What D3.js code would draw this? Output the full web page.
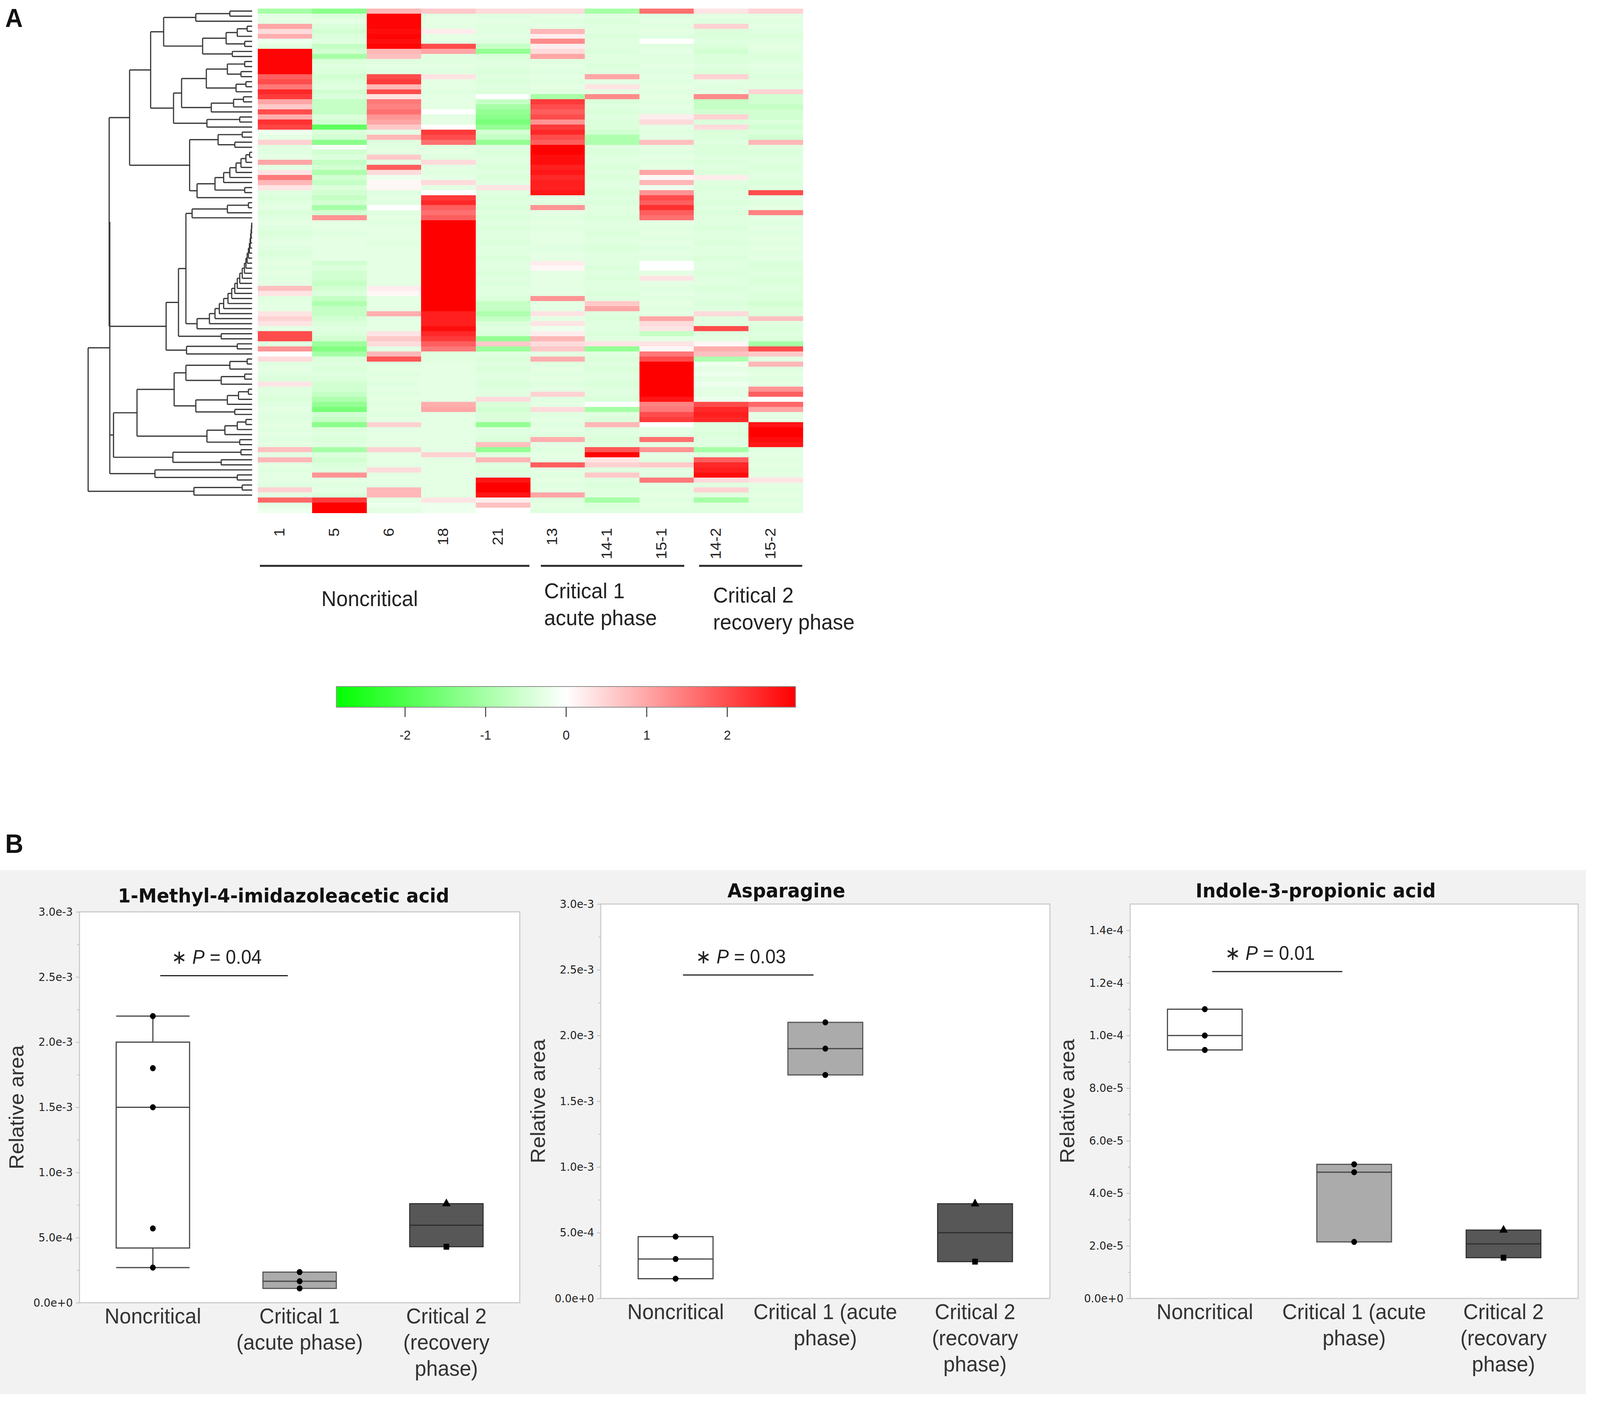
<!DOCTYPE html>
<html>
<head>
<meta charset="utf-8">
<script src="https://cdn.jsdelivr.net/npm/d3@7"></script>
<style>
  html, body { margin: 0; padding: 0; width: 100%; height: 100%; overflow: hidden; background: #fff; }
  svg { display: block; width: 100vw; height: 100vh; }
  text { font-family: "Liberation Sans", Arial, sans-serif; fill: #222; }
</style>
</head>
<body>
<svg id="fig" viewBox="0 0 4328 3603" preserveAspectRatio="none"></svg>
<script>
// ---------- Panel A: heatmap data (z-scores, rows top to bottom) ----------
const samples = ["1", "5", "6", "18", "21", "13", "14-1", "15-1", "14-2", "15-2"];
const groupNames = [["Noncritical"], ["Critical 1", "acute phase"], ["Critical 2", "recovery phase"]];
const groupMembers = [["1", "5", "6", "18", "21"], ["13", "14-1", "15-1"], ["14-2", "15-2"]];
const colorTicks = [-2, -1, 0, 1, 2];

const s1 = [
  -1.0, -0.3, -0.3, 1.0, 0.4, 0.9, -0.2, -0.35, 2.8, 2.8,
  2.8, 2.8, 2.8, 1.8, 2.0, 1.5, 2.4, 2.2, 1.0, 0.6,
  2.0, 0.9, 2.3, 2.1, -0.2, -0.3, 0.5, -0.35, -0.35, -0.3,
  1.0, -0.3, 0.3, 1.5, 0.8, 0.3, -0.35, -0.4, -0.35, -0.3,
  -0.4, -0.35, -0.3, -0.35, -0.4, -0.35, -0.3, -0.35, -0.4, -0.35,
  -0.3, -0.35, -0.3, -0.35, -0.3, 0.7, 0.3, -0.35, -0.3, -0.3,
  0.3, 0.5, 0.3, -0.3, 2.0, 2.0, -0.35, 1.2, 0.0, 0.4,
  -0.35, -0.3, -0.35, -0.4, 0.3, -0.35, -0.35, -0.4, -0.35, -0.3,
  -0.35, -0.35, -0.3, -0.35, -0.3, -0.35, -0.3, 0.7, -0.3, 0.8,
  -0.3, -0.35, -0.3, -0.3, -0.35, 0.5, -0.3, 1.7, -0.3, -0.2
];
const s5 = [
  -1.3, -0.4, -0.3, -0.4, -0.5, -0.4, -0.35, -0.65, -0.5, -1.0,
  -0.4, -0.35, -0.4, -0.5, -0.4, -0.35, -0.5, -0.4, -0.65, -0.65,
  -0.65, -0.4, -0.5, -1.8, -0.4, -0.5, -1.3, -0.1, -0.5, -0.4,
  -0.65, -0.5, -0.9, -0.5, -0.65, -0.4, -0.5, -0.65, -0.5, -1.0,
  -0.5, 1.2, -0.3, -0.3, -0.35, -0.3, -0.3, -0.3, -0.3, -0.3,
  -0.5, -0.4, -0.5, -0.5, -0.65, -0.5, -0.4, -0.65, -0.9, -0.65,
  -0.65, -0.5, -0.4, -0.35, -0.4, -0.5, -1.1, -1.4, -1.0, -0.4,
  -0.35, -0.4, -0.35, -0.4, -0.5, -0.5, -0.65, -0.9, -1.2, -1.5,
  -0.5, -0.65, -1.3, -0.4, -0.35, -0.4, -0.35, -1.0, -0.4, -0.5,
  -0.4, -0.35, 1.2, -0.3, -0.35, -0.3, -0.4, 2.2, 2.85, 2.85
];
const s6 = [
  0.8, 2.8, 2.8, 2.8, 2.7, 2.8, 2.7, 2.8, 0.8, 0.7,
  -0.35, -0.3, -0.35, 2.0, 2.2, 0.8, 2.0, 0.3, 1.5, 1.4,
  1.6, 1.2, 1.0, 0.6, -0.3, 0.8, -0.35, -0.35, -0.3, 0.6,
  -0.3, 1.8, 0.4, -0.2, 0.1, 0.1, -0.35, -0.3, -0.35, 0.0,
  -0.35, -0.3, -0.35, -0.3, -0.3, -0.3, -0.35, -0.3, -0.3, -0.3,
  -0.3, -0.3, -0.3, -0.3, -0.3, 0.2, 0.1, -0.3, -0.3, -0.3,
  0.9, -0.3, -0.3, -0.3, 0.3, 0.6, 0.4, -0.3, 0.8, 1.9,
  -0.35, -0.3, -0.35, -0.3, -0.35, -0.3, -0.35, -0.3, -0.35, -0.3,
  -0.35, -0.3, 0.5, -0.3, -0.3, -0.3, -0.3, 0.5, -0.3, -0.3,
  -0.3, 0.4, -0.3, -0.3, -0.3, 0.8, 0.8, -0.3, -0.2, -0.3
];
const s18 = [
  0.6, -0.3, -0.3, -0.3, 0.2, -0.3, -0.3, 2.0, 1.0, -0.35,
  -0.35, -0.3, -0.35, 0.3, -0.3, -0.3, -0.35, -0.3, -0.3, -0.3,
  0.0, -0.3, -0.3, 0.0, 2.2, 2.0, 1.6, -0.35, -0.3, -0.35,
  0.4, -0.3, -0.35, -0.3, 0.4, -0.3, 0.0, 2.2, 2.4, 1.8,
  1.6, 1.8, 2.85, 2.85, 2.85, 2.85, 2.85, 2.85, 2.85, 2.85,
  2.85, 2.85, 2.85, 2.85, 2.85, 2.85, 2.85, 2.85, 2.85, 2.85,
  2.5, 2.5, 2.5, 2.7, 2.4, 2.2, 1.8, 1.5, -0.35, -0.35,
  -0.3, -0.3, -0.3, -0.3, -0.3, -0.3, -0.3, -0.3, 0.9, 1.0,
  -0.3, -0.3, -0.3, -0.3, -0.3, -0.3, -0.3, -0.3, 0.5, -0.3,
  -0.3, -0.3, -0.3, -0.3, -0.3, -0.3, -0.3, 0.3, -0.2, -0.2
];
const s21 = [
  0.4, -0.35, -0.3, -0.35, -0.35, -0.3, -0.35, -0.65, -1.2, -0.4,
  -0.35, -0.35, -0.4, -0.35, -0.4, -0.35, -0.4, 0.0, -0.65, -1.0,
  -1.2, -1.3, -1.5, -1.2, -0.5, -0.65, -1.2, -0.35, -0.4, -0.35,
  -0.35, -0.4, -0.35, -0.4, -0.35, 0.3, -0.35, -0.4, -0.35, -0.4,
  -0.35, -0.4, -0.35, -0.4, -0.35, -0.35, -0.4, -0.35, -0.35, -0.4,
  -0.35, -0.35, -0.4, -0.35, -0.4, -0.35, -0.35, -0.4, -0.65, -0.65,
  -0.9, -0.65, -0.4, -0.35, -0.4, -1.2, 0.6, -1.1, -0.35, -0.4,
  -0.35, -0.4, -0.35, -0.35, -0.4, -0.35, -0.35, 0.4, -0.4, -0.5,
  -0.4, -0.4, -1.2, -0.35, -0.35, -0.4, 0.7, -1.2, -0.35, 0.8,
  -0.35, -0.4, -0.35, 2.6, 2.85, 2.85, 2.6, 0.2, 0.7, 0.0
];
const s13 = [
  0.4, -0.3, -0.35, -0.3, 0.8, 0.2, 1.3, 0.2, 0.4, 1.0,
  -0.35, -0.3, -0.35, -0.3, -0.35, -0.3, -0.35, -1.0, 2.2, 2.0,
  1.8, 2.0, 1.2, 2.2, 2.4, 2.0, 1.8, 2.85, 2.85, 2.7,
  2.7, 2.5, 2.6, 2.4, 2.5, 2.5, 2.6, -0.3, -0.35, 1.2,
  -0.3, -0.35, -0.3, -0.35, -0.3, -0.3, -0.3, -0.35, -0.3, -0.3,
  0.2, 0.1, -0.3, -0.3, -0.3, -0.3, -0.3, 1.2, -0.3, -0.3,
  0.3, -0.3, 0.3, -0.2, 0.2, 0.8, 0.4, 0.6, -0.3, 0.9,
  -0.35, -0.3, -0.35, -0.3, -0.35, -0.3, 0.5, -0.35, -0.3, 0.4,
  -0.35, -0.3, -0.35, -0.3, -0.35, 0.9, -0.3, -0.35, -0.3, -0.3,
  1.8, -0.3, -0.35, -0.3, -0.35, -0.3, 1.0, -0.35, -0.3, -0.35
];
const s14_1 = [
  -1.0, -0.35, -0.4, -0.35, -0.35, -0.4, -0.35, -0.35, -0.4, -0.35,
  -0.35, -0.4, -0.35, 1.0, -0.3, 0.3, -0.3, 1.3, -0.4, -0.35,
  -0.4, -0.35, -0.4, -0.4, -0.5, -0.9, -0.9, -0.35, -0.4, -0.35,
  -0.35, -0.4, -0.35, -0.4, -0.35, -0.35, -0.4, -0.35, -0.4, -0.35,
  -0.35, -0.4, -0.35, -0.35, -0.4, -0.35, -0.35, -0.4, -0.35, -0.35,
  -0.35, -0.4, -0.35, -0.4, -0.35, -0.35, -0.4, -0.35, 0.6, 1.0,
  -0.35, -0.4, -0.35, -0.35, -0.4, -0.35, 0.3, -1.2, -0.35, -0.4,
  -0.35, -0.4, -0.35, -0.35, -0.4, -0.35, -0.35, -0.4, 0.0, -1.0,
  -0.35, -0.4, 0.8, -0.35, -0.35, -0.4, -0.35, 1.9, 2.8, 0.3,
  0.5, -0.35, 0.6, -0.35, -0.4, -0.35, -0.35, -1.0, -0.4, -0.35
];
const s15_1 = [
  1.6, -0.35, -0.3, -0.35, -0.3, -0.35, 0.0, -0.35, -0.3, -0.35,
  -0.35, -0.3, -0.35, -0.3, -0.35, -0.3, -0.35, -0.3, -0.35, -0.3,
  -0.35, 0.2, 0.4, -0.3, -0.35, -0.3, 0.7, -0.3, -0.35, -0.3,
  -0.35, -0.3, 1.0, 0.1, 0.8, -0.2, 1.2, 2.0, 1.8, 2.3,
  1.8, 1.6, -0.3, -0.35, -0.3, -0.35, -0.3, -0.35, -0.3, -0.35,
  0.0, 0.0, -0.3, 0.3, -0.3, -0.35, -0.3, -0.35, -0.3, -0.35,
  -0.3, 1.0, 0.4, 0.3, -0.65, -0.3, 0.3, 0.1, 1.5, 2.0,
  2.85, 2.85, 2.85, 2.85, 2.85, 2.85, 2.85, 2.6, 1.4, 1.5,
  2.0, 2.2, 0.0, -0.3, -0.3, 1.6, -0.3, 1.2, -0.3, -0.35,
  0.6, -0.3, -0.35, 1.5, -0.3, -0.35, -0.3, -0.35, -0.3, -0.35
];
const s14_2 = [
  0.3, -0.3, -0.35, 0.5, -0.4, -0.4, -0.35, -0.4, -0.5, -0.4,
  -0.4, -0.35, -0.4, 0.5, -0.3, -0.35, -0.3, 1.3, -0.65, -0.65,
  -0.5, 0.5, -0.4, 0.4, -0.4, -0.4, -0.35, -0.4, -0.4, -0.35,
  -0.4, -0.35, -0.4, 0.2, -0.35, -0.4, -0.35, -0.35, -0.4, -0.35,
  -0.4, -0.35, -0.35, -0.4, -0.35, -0.35, -0.4, -0.35, -0.35, -0.4,
  -0.35, -0.35, -0.4, -0.35, -0.35, -0.4, -0.35, -0.35, -0.4, -0.35,
  0.4, -0.35, -0.35, 2.0, -0.35, -0.3, 0.1, 0.9, 0.7, -0.9,
  -0.2, -0.3, -0.2, -0.3, -0.2, -0.3, -0.3, -0.2, 2.0, 2.4,
  2.5, 2.4, -0.35, -0.35, -0.4, -0.35, -0.35, -1.0, -0.35, 1.8,
  2.4, 2.5, 2.7, 0.4, -0.35, 0.5, -0.35, -1.0, -0.35, -0.35
];
const s15_2 = [
  0.5, -0.3, -0.35, -0.3, -0.35, -0.4, -0.35, -0.3, -0.35, -0.4,
  -0.35, -0.3, -0.35, -0.4, -0.35, -0.35, 0.5, -0.5, -0.5, -0.65,
  -0.5, -0.5, -0.4, -0.5, -0.4, -0.5, 0.8, -0.35, -0.4, -0.35,
  -0.35, -0.4, -0.35, -0.35, -0.4, -0.35, 2.0, -0.3, -0.35, -0.3,
  1.4, -0.3, -0.35, -0.3, -0.35, -0.3, -0.35, -0.3, -0.35, -0.3,
  -0.4, -0.4, -0.35, -0.4, -0.4, -0.35, -0.4, -0.4, -0.5, -0.4,
  -0.4, 0.7, -0.35, -0.4, -0.35, -0.4, -1.0, 2.0, 0.6, -0.3,
  0.8, -0.35, -0.3, -0.35, -0.3, 1.2, 1.8, 0.0, 1.7, 1.0,
  -0.3, -0.3, 2.6, 2.85, 2.85, 2.7, 2.6, -0.35, -0.3, -0.35,
  -0.3, -0.35, -0.3, 0.3, -0.3, -0.35, -0.3, -0.35, -0.3, -0.35
];
const heatmapColumns = [s1, s5, s6, s18, s21, s13, s14_1, s15_1, s14_2, s15_2];

// row dendrogram, nested "(child,child)height" with x = leaf; heights
const chainHeights = [3, 5, 8, 12, 16, 22, 30, 40, 50, 62, 80, 100, 120, 140, 165, 195, 230, 265, 300, 345, 445];
const treeTop = "((((x,x)180,x)455,((((x,x)40,x)120,(x,x)60)210,(x,x)160)400)715," +
  "(((((x,x)60,(x,x)90)200,((x,x)50,x)130)370,(((x,x)70,x)150,x)330)570,((x,x)100,x)365)635)820";
const treeMid = "(((x,x)80,(x,x)140)275,((((((((x,x)20,x)50,x)90,x)130,x)180,x)230,(x,x)60)300,x)445)505";
const treeLow = "((((((x,x)40,x)180,((x,x)60,x)250)535,((((x,x)30,x)110,x)200,(x,x)140)455)630," +
  "((((x,x)50,x)120,x)220,(x,x)100)365)930,((x,x)90,(x,x)250)640)1120,(x,(x,x)120)785)1150";

// ---------- Panel B: box plot data ----------
const boxCategories = ["Noncritical", "Critical 1", "Critical 2"];
const methylValues = [[2.2e-3, 1.8e-3, 1.5e-3, 0.57e-3, 0.27e-3], [0.235e-3, 0.165e-3, 0.11e-3], [0.76e-3, 0.43e-3]];
const asparagineValues = [[0.47e-3, 0.30e-3, 0.15e-3], [2.1e-3, 1.9e-3, 1.7e-3], [0.72e-3, 0.28e-3]];
const indoleValues = [[1.10e-4, 1.0e-4, 0.945e-4], [5.1e-5, 4.8e-5, 2.15e-5], [2.6e-5, 1.55e-5]];
const pointShapes = [["circle"], ["circle"], ["triangle", "square"]];
const methylLabels = [["Noncritical"], ["Critical 1", "(acute phase)"], ["Critical 2", "(recovery", "phase)"]];
const otherLabels = [["Noncritical"], ["Critical 1 (acute", "phase)"], ["Critical 2", "(recovary", "phase)"]];
const pValues = ["0.04", "0.03", "0.01"];
const sigLevels = [2.51e-3, 2.46e-3, 1.243e-4];

const svg = d3.select("#fig");

// ================= Panel A =================
svg.append("text").attr("x", 14).attr("y", 69)
  .style("font-size", "66px").style("font-weight", "bold").style("fill", "#111").text("A");

const nRows = s1.length;
const xCol = d3.scaleBand().domain(samples).range([697, 2172]);
const yRow = d3.scaleBand().domain(d3.range(nRows)).range([22, 1313]);
const heatColor = d3.scaleLinear().domain([-2.85, 0, 2.85])
  .range(["#00ff00", "#ffffff", "#ff0000"]).clamp(true);

const cells = [];
heatmapColumns.forEach((col, j) => col.forEach((v, i) => cells.push({ sample: samples[j], row: i, v })));

svg.append("g").attr("shape-rendering", "crispEdges")
  .selectAll("rect").data(cells).join("rect")
  .attr("x", d => xCol(d.sample))
  .attr("y", d => yRow(d.row))
  .attr("width", xCol.bandwidth() + 0.5)
  .attr("height", yRow.bandwidth() + 0.5)
  .attr("fill", d => heatColor(d.v));

// dendrogram
function parseTree(str) {
  let i = 0;
  function node() {
    if (str[i] === "(") {
      i++;
      const children = [node()];
      while (str[i] === ",") { i++; children.push(node()); }
      i++;
      let num = "";
      while (i < str.length && /[0-9.]/.test(str[i])) num += str[i++];
      return { h: +num, children };
    }
    i++;
    return { h: 0 };
  }
  return node();
}
const chain = chainHeights.reduce((acc, h) => "(" + acc + ",x)" + h, "x");
const treeF = "((((((x,x)30,x)200,x)485," + chain + ")535,(x,x)250)595,((x,x)120,x)530)695";
const treeString = "((((" + "(" + treeTop + "," + treeMid + ")990," + treeF + ")1155," + treeLow + ")1240,((x,x)80,x)470)1325,((x,x)90,x)645)1380";

const root = d3.hierarchy(parseTree(treeString));
const xDen = d3.scaleLinear().domain([0, 1380]).range([682, 220]);
root.leaves().forEach((leaf, i) => { leaf.py = yRow(i) + yRow.bandwidth() / 2; });
root.eachAfter(d => {
  if (d.children) d.py = (d.children[0].py + d.children[d.children.length - 1].py) / 2;
});

const dend = svg.append("g").attr("fill", "none").attr("stroke", "#3a3a3a").attr("stroke-width", 3.2);
dend.selectAll("path.v").data(root.descendants().filter(d => d.children)).join("path")
  .attr("class", "v")
  .attr("d", d => `M${xDen(d.data.h)},${d.children[0].py}V${d.children[d.children.length - 1].py}`);
dend.selectAll("path.h").data(root.descendants().filter(d => d.parent)).join("path")
  .attr("class", "h")
  .attr("d", d => `M${xDen(d.parent.data.h)},${d.py}H${xDen(d.data.h)}`);

// column labels
svg.append("g").selectAll("text").data(samples).join("text")
  .attr("transform", d => `translate(${xCol(d) + xCol.bandwidth() / 2 - 15},1352) rotate(-90)`)
  .attr("dy", "0.35em")
  .attr("text-anchor", "end")
  .style("font-size", "40px")
  .text(d => d);

// group brackets and names
const groupLineSpans = [[703, 1432], [1463, 1851], [1891, 2170]];
svg.append("g").selectAll("line").data(groupMembers).join("line")
  .attr("x1", (d, i) => groupLineSpans[i][0])
  .attr("x2", (d, i) => groupLineSpans[i][1])
  .attr("y1", 1449).attr("y2", 1449)
  .attr("stroke", "#2a2a2a").attr("stroke-width", 5);

const groupTextPos = [{ x: 1000, y: 1552, anchor: "middle" }, { x: 1472, y: 1532, anchor: "start" }, { x: 1929, y: 1543, anchor: "start" }];
groupNames.forEach((lines, i) => {
  const t = svg.append("text")
    .attr("x", groupTextPos[i].x).attr("y", groupTextPos[i].y)
    .attr("text-anchor", groupTextPos[i].anchor)
    .style("font-size", "56px");
  lines.forEach((s, k) => t.append("tspan").attr("x", groupTextPos[i].x).attr("dy", k === 0 ? 0 : 69).text(s));
});

// colour key
const xKey = d3.scaleLinear().domain([-2.85, 2.85]).range([910, 2152]);
const grad = svg.append("defs").append("linearGradient").attr("id", "keygrad");
d3.range(0, 1.0001, 0.05).forEach(t => {
  grad.append("stop").attr("offset", `${t * 100}%`).attr("stop-color", heatColor(-2.85 + 5.7 * t));
});
svg.append("rect").attr("x", 910).attr("y", 1758).attr("width", 1242).attr("height", 53)
  .attr("fill", "url(#keygrad)").attr("stroke", "#8a8a8a").attr("stroke-width", 2);
const keyAxis = svg.append("g").attr("transform", "translate(0,1811)")
  .call(d3.axisBottom(xKey).tickValues(colorTicks).tickSize(25).tickPadding(34).tickFormat(d => String(d)));
keyAxis.select(".domain").remove();
keyAxis.selectAll("line").attr("stroke", "#333").attr("stroke-width", 2.5);
keyAxis.selectAll("text").style("font-size", "34px").style("font-family", "Liberation Sans, Arial, sans-serif").attr("fill", "#222");

// ================= Panel B =================
svg.append("rect").attr("x", 0).attr("y", 2228).attr("width", 4290).attr("height", 1342).attr("fill", "#f2f2f2");
svg.append("text").attr("x", 14).attr("y", 2184)
  .style("font-size", "68px").style("font-weight", "bold").style("fill", "#111").text("B");

function jmpQuantile(sorted, p) {
  const n = sorted.length;
  const pos = Math.max(0, Math.min(n - 1, (n + 1) * p - 1));
  const lo = Math.floor(pos), hi = Math.ceil(pos);
  return sorted[lo] + (sorted[hi] - sorted[lo]) * (pos - lo);
}

const boxFills = ["#ffffff", "#ababab", "#575757"];
const boxStrokes = ["#444", "#555", "#333"];
const symbols = { circle: d3.symbolCircle, triangle: d3.symbolTriangle, square: d3.symbolSquare };

function drawBoxPanel(cfg, idx) {
  const [x0, y0, x1, y1] = cfg.frame;
  const g = svg.append("g");
  g.append("rect").attr("x", x0).attr("y", y0).attr("width", x1 - x0).attr("height", y1 - y0)
    .attr("fill", "#fff").attr("stroke", "#cccccc").attr("stroke-width", 3);

  const x = d3.scaleBand().domain(boxCategories).range([x0, x1]);
  const y = d3.scaleLinear().domain([0, cfg.yMax]).range([y1, y0]);
  const cx = c => x(c) + x.bandwidth() / 2;
  const bw = x.bandwidth() * 0.5;

  // y axis: major and minor ticks
  const majors = d3.range(0, cfg.tickMax + cfg.step / 10, cfg.step);
  const minors = d3.range(cfg.step / 2, cfg.yMax, cfg.step);
  const minorAxis = g.append("g").attr("transform", `translate(${x0},0)`)
    .call(d3.axisLeft(y).tickValues(minors).tickSize(6).tickFormat(""));
  const majorAxis = g.append("g").attr("transform", `translate(${x0},0)`)
    .call(d3.axisLeft(y).tickValues(majors).tickSize(10).tickPadding(8).tickFormat(d3.format(".1e")));
  [minorAxis, majorAxis].forEach(a => {
    a.select(".domain").remove();
    a.selectAll("line").attr("stroke", "#bdbdbd").attr("stroke-width", 2);
  });
  majorAxis.selectAll("text").style("font-size", "29px").style("font-family", "DejaVu Sans, sans-serif").attr("fill", "#555");

  // title and axis label
  g.append("text").attr("x", cfg.titleX).attr("y", y0 - cfg.titleGap).attr("text-anchor", "middle")
    .style("font-family", "DejaVu Sans, sans-serif").style("font-weight", "bold").style("font-size", "50px")
    .style("fill", "#111").text(cfg.title);
  g.append("text")
    .attr("transform", `translate(${x0 - 170},${(y0 + y1) / 2}) rotate(-90)`)
    .attr("dy", "0.35em").attr("text-anchor", "middle").style("font-size", "54px").style("fill", "#333")
    .text("Relative area");

  // boxes
  const stats = cfg.values.map((vals, i) => {
    const s = vals.slice().sort(d3.ascending);
    return {
      cat: boxCategories[i], i, vals,
      min: s[0], max: s[s.length - 1],
      q1: jmpQuantile(s, 0.25), med: jmpQuantile(s, 0.5), q3: jmpQuantile(s, 0.75)
    };
  });

  stats.forEach(st => {
    const c = cx(st.cat);
    const stroke = boxStrokes[st.i];
    if (st.max > st.q3 || st.min < st.q1) {
      g.append("path").attr("fill", "none").attr("stroke", stroke).attr("stroke-width", 3)
        .attr("d", `M${c},${y(st.q3)}V${y(st.max)}M${c - bw / 2},${y(st.max)}H${c + bw / 2}` +
          `M${c},${y(st.q1)}V${y(st.min)}M${c - bw / 2},${y(st.min)}H${c + bw / 2}`);
    }
    g.append("rect").attr("x", c - bw / 2).attr("y", y(st.q3)).attr("width", bw)
      .attr("height", y(st.q1) - y(st.q3))
      .attr("fill", boxFills[st.i]).attr("stroke", stroke).attr("stroke-width", 3);
    g.append("line").attr("x1", c - bw / 2).attr("x2", c + bw / 2)
      .attr("y1", y(st.med)).attr("y2", y(st.med))
      .attr("stroke", st.i === 2 ? "#2e2e2e" : "#444").attr("stroke-width", 3);

    g.selectAll(null).data(st.vals).join("path")
      .attr("transform", v => `translate(${c},${y(v)})`)
      .attr("d", (v, k) => {
        const shapes = pointShapes[st.i];
        const type = shapes[Math.min(k, shapes.length - 1)];
        return d3.symbol().type(symbols[type]).size(type === "circle" ? 190 : 230)();
      })
      .attr("fill", "#000");
  });

  // category labels
  cfg.labels.forEach((lines, i) => {
    const t = g.append("text").attr("x", cx(boxCategories[i])).attr("y", y1 + 53)
      .attr("text-anchor", "middle").style("font-size", "56px").style("fill", "#333");
    lines.forEach((s, k) => t.append("tspan").attr("x", cx(boxCategories[i])).attr("dy", k === 0 ? 0 : 67).text(s));
  });

  // significance bar
  const c0 = cx(boxCategories[0]), c1 = cx(boxCategories[1]);
  const ys = y(sigLevels[idx]);
  g.append("line").attr("x1", c0 + 20).attr("x2", c1 - 32).attr("y1", ys).attr("y2", ys)
    .attr("stroke", "#222").attr("stroke-width", 3);
  const st = g.append("text").attr("x", (c0 + c1) / 2 - 26).attr("y", ys - 30)
    .attr("text-anchor", "middle").style("font-size", "50px");
  st.append("tspan").text("\u2217 ");
  st.append("tspan").style("font-style", "italic").text("P");
  st.append("tspan").text(" = " + pValues[idx]);
}

const panels = [
  { title: "1-Methyl-4-imidazoleacetic acid", values: methylValues, labels: methylLabels,
    frame: [215, 2335, 1406, 3336], yMax: 3e-3, tickMax: 3e-3, step: 5e-4, titleX: 767, titleGap: 24 },
  { title: "Asparagine", values: asparagineValues, labels: otherLabels,
    frame: [1625, 2315, 2840, 3325], yMax: 3e-3, tickMax: 3e-3, step: 5e-4, titleX: 2127, titleGap: 17 },
  { title: "Indole-3-propionic acid", values: indoleValues, labels: otherLabels,
    frame: [3057, 2315, 4269, 3325], yMax: 1.5e-4, tickMax: 1.4e-4, step: 2e-5, titleX: 3559, titleGap: 17 }
];
panels.forEach(drawBoxPanel);
</script>
</body>
</html>
